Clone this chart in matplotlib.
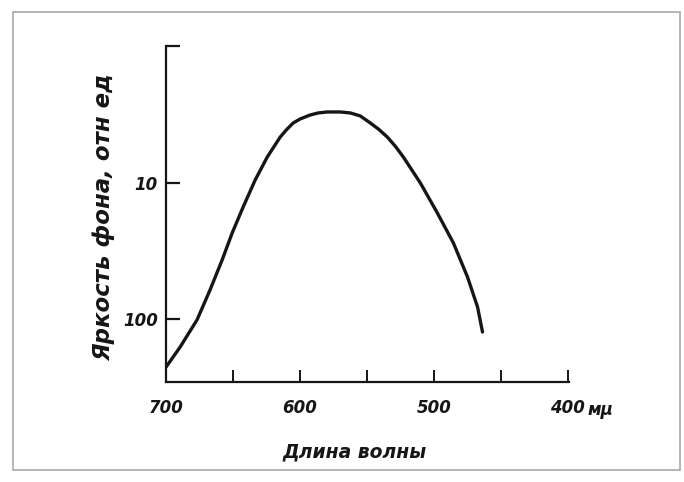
import matplotlib
matplotlib.use("Agg")
import matplotlib.pyplot as plt
from matplotlib.patches import Rectangle

# Wavelength (mμ) vs background brightness (rel. units)
wavelength = [700, 689.5, 676.8, 667.1, 658.1, 650.6, 642.4, 633.4, 624.4,
              614.7, 610.2, 605.0, 599.8, 592.3, 586.3, 579.6, 569.8, 562.3,
              554.9, 547.4, 541.0, 534.7, 528.5, 522.7, 510.0, 497.3, 485.3,
              474.8, 467.3, 463.6]
brightness = [224, 160, 101, 61, 36.9, 23.4, 15.1, 9.57, 6.50,
              4.64, 4.12, 3.66, 3.42, 3.20, 3.09, 3.04, 3.04, 3.09,
              3.25, 3.66, 4.08, 4.64, 5.45, 6.50, 10.07, 16.7, 27.7,
              49.1, 81.4, 124]

x_major = [700, 600, 500, 400]
x_minor = [650, 550, 450]
y_ticks = [1, 10, 100]
y_labels = ["", "10", "100"]

ink = "#161616"
font = dict(family="DejaVu Sans", style="italic", weight="bold", color=ink)

fig = plt.figure(figsize=(6.84, 4.82), dpi=100)
fig.patch.set_facecolor("white")

# scanned page border
fig.patches.append(Rectangle((13 / 684, 12 / 482), 667 / 684, 458 / 482,
                             transform=fig.transFigure, fill=False,
                             edgecolor="#a8a8a8", linewidth=1.2))

ax = fig.add_axes([166 / 684, 1 - 382 / 482, 403 / 684, 336 / 482])
ax.plot(wavelength, brightness, color=ink, linewidth=2.4,
        solid_capstyle="round", solid_joinstyle="round")

ax.set_yscale("log")
ax.set_xlim(700, 399)
ax.set_ylim(288, 1)

for side in ("top", "right"):
    ax.spines[side].set_visible(False)
for side in ("left", "bottom"):
    ax.spines[side].set_linewidth(1.6)
    ax.spines[side].set_color(ink)

ax.set_xticks(x_major)
ax.set_xticklabels(["700", "600", "500", "400"], fontsize=12, **font)
ax.set_xticks(x_minor, minor=True)
ax.set_yticks(y_ticks)
ax.set_yticklabels(y_labels, fontsize=12, **font)
ax.yaxis.set_minor_locator(matplotlib.ticker.NullLocator())
ax.tick_params(axis="x", which="both", direction="in", length=9, width=1.4,
               color=ink, pad=12)
ax.tick_params(axis="y", direction="in", length=10, width=1.6, color=ink, pad=6)

fig.text(588 / 684, 1 - 410 / 482, "мμ", fontsize=12, ha="left", va="center", **font)
fig.text(355 / 684, 1 - 452 / 482, "Длина волны", fontsize=13.5,
         ha="center", va="center", **font)
fig.text(104 / 684, 1 - 217 / 482, "Яркость фона, отн ед", fontsize=16.5,
         rotation=90, ha="center", va="center", **font)

fig.savefig("out.png", dpi=100)
